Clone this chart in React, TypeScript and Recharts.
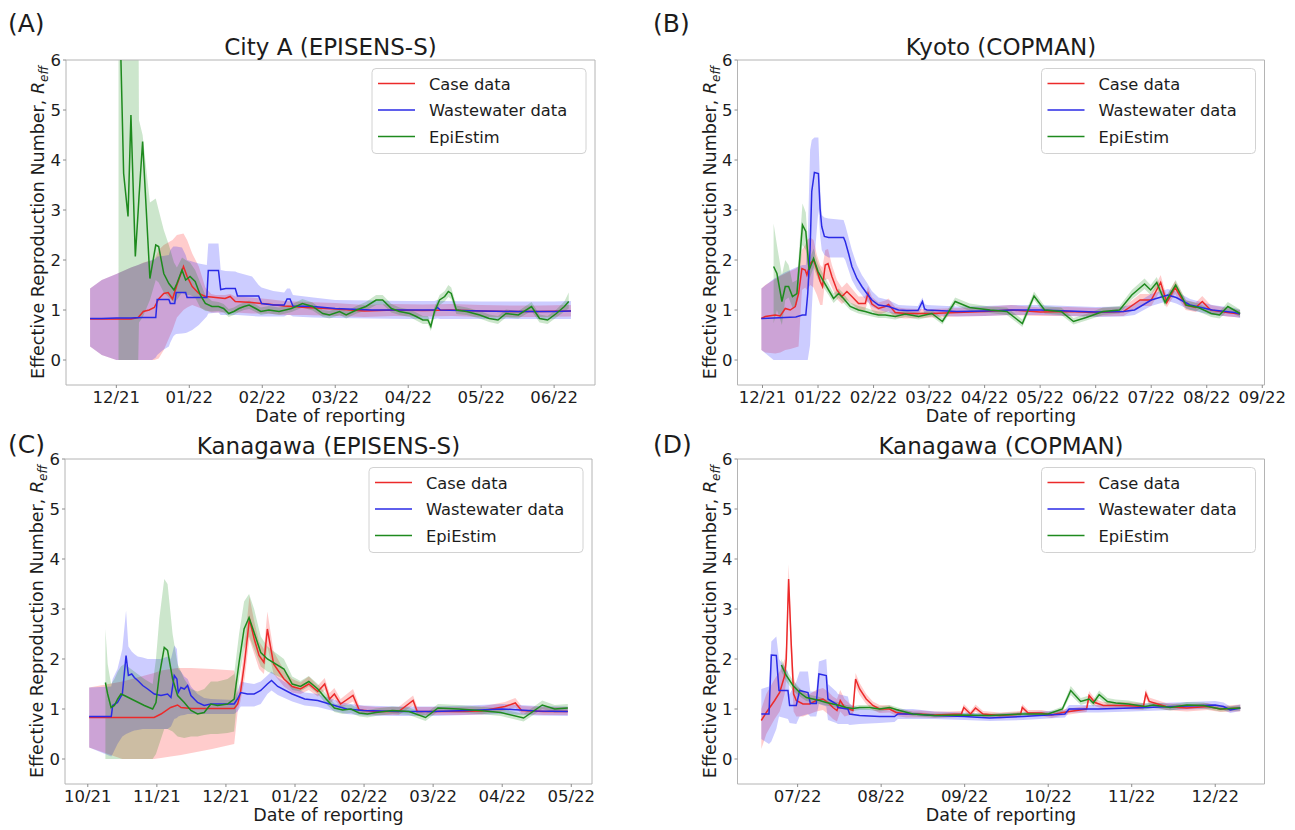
import React from 'react';
import { Area, ComposedChart, Line, ReferenceArea, XAxis, YAxis } from 'recharts';

// x values are months counted from the first tick of each panel

// ---- (A) City A (EPISENS-S) ----
const aTicks = ['12/21', '01/22', '02/22', '03/22', '04/22', '05/22', '06/22'];

const aCaseT = [-0.36, -0.2, 0, 0.2, 0.3, 0.37, 0.45, 0.52, 0.58, 0.65, 0.71, 0.77, 0.83, 0.92, 0.97, 1.04, 1.13, 1.22, 1.3, 1.36, 1.49, 1.56, 1.63, 1.86, 2.07, 2.3, 2.6, 3.0, 3.4, 3.8, 4.2, 4.6, 5.0, 5.4, 5.8, 6.23];
const aCaseR = [0.82, 0.82, 0.82, 0.82, 0.85, 0.97, 1.0, 1.05, 1.22, 1.33, 1.35, 1.22, 1.5, 1.87, 1.67, 1.47, 1.33, 1.27, 1.26, 1.25, 1.23, 1.27, 1.17, 1.15, 1.12, 1.08, 1.05, 1.02, 0.98, 1.0, 0.99, 1.0, 0.98, 0.97, 0.97, 0.98];
const aCaseLo = [0.27, 0.1, 0, 0, 0, 0, 0, 0, 0.03, 0.2, 0.4, 0.6, 0.85, 1.0, 1.05, 1.1, 1.05, 1.0, 0.95, 0.95, 0.95, 0.97, 0.95, 0.93, 0.93, 0.9, 0.9, 0.88, 0.86, 0.88, 0.87, 0.88, 0.86, 0.86, 0.86, 0.87];
const aCaseHi = [1.43, 1.6, 1.72, 1.85, 1.9, 1.95, 1.98, 2.0, 2.2, 2.3, 2.35, 2.4, 2.5, 2.53, 2.4, 2.13, 1.87, 1.45, 1.32, 1.3, 1.3, 1.32, 1.27, 1.25, 1.22, 1.18, 1.16, 1.14, 1.1, 1.12, 1.11, 1.12, 1.1, 1.09, 1.09, 1.1];

const aWwT = [-0.36, -0.2, 0, 0.2, 0.35, 0.49, 0.54, 0.56, 0.64, 0.72, 0.74, 0.78, 0.8, 0.82, 0.9, 0.95, 0.97, 1.04, 1.13, 1.24, 1.26, 1.4, 1.43, 1.5, 1.63, 1.66, 1.86, 1.95, 1.99, 2.15, 2.3, 2.34, 2.38, 2.42, 2.7, 3.0, 3.5, 4.0, 4.36, 4.4, 4.44, 5.0, 5.5, 6.0, 6.23];
const aWwR = [0.83, 0.83, 0.84, 0.84, 0.85, 0.85, 0.85, 1.21, 1.21, 1.21, 1.13, 1.13, 1.13, 1.35, 1.35, 1.35, 1.25, 1.25, 1.25, 1.25, 1.79, 1.79, 1.41, 1.43, 1.43, 1.28, 1.28, 1.28, 1.13, 1.1, 1.1, 1.22, 1.22, 1.08, 1.07, 1.03, 1.0, 1.0, 1.0, 1.05, 1.0, 0.98, 0.97, 0.97, 0.98];
const aWwLo = [0.27, 0.1, 0, 0, 0, 0, 0.05, 0.1, 0.2, 0.27, 0.35, 0.47, 0.5, 0.52, 0.53, 0.54, 0.55, 0.6, 0.7, 0.87, 0.93, 0.95, 0.9, 0.9, 0.9, 0.9, 0.88, 0.87, 0.87, 0.87, 0.87, 0.9, 0.9, 0.87, 0.85, 0.84, 0.83, 0.82, 0.82, 0.83, 0.82, 0.82, 0.82, 0.82, 0.82];
const aWwHi = [1.43, 1.6, 1.72, 1.85, 1.93, 2.0, 2.03, 2.07, 2.08, 2.1, 2.2, 2.27, 2.27, 2.27, 2.25, 2.1, 2.0, 1.97, 1.93, 1.9, 2.33, 2.33, 1.8, 1.78, 1.77, 1.75, 1.67, 1.5, 1.45, 1.38, 1.35, 1.43, 1.43, 1.3, 1.25, 1.2, 1.19, 1.18, 1.18, 1.2, 1.18, 1.17, 1.17, 1.17, 1.18];

const aEpiT = [0.03, 0.1, 0.16, 0.2, 0.26, 0.3, 0.31, 0.36, 0.46, 0.54, 0.58, 0.65, 0.72, 0.79, 0.83, 0.9, 0.95, 1.01, 1.08, 1.15, 1.22, 1.31, 1.4, 1.47, 1.54, 1.61, 1.68, 1.75, 1.82, 1.91, 1.98, 2.09, 2.23, 2.4, 2.55, 2.69, 2.83, 2.92, 3.06, 3.15, 3.29, 3.42, 3.56, 3.65, 3.77, 3.88, 4.02, 4.11, 4.2, 4.27, 4.31, 4.36, 4.43, 4.5, 4.55, 4.59, 4.66, 4.8, 4.98, 5.11, 5.23, 5.34, 5.51, 5.69, 5.8, 5.91, 6.03, 6.14, 6.2];
const aEpiR = [8.0, 3.73, 2.87, 4.9, 2.07, 3.0, 3.25, 4.37, 1.63, 2.3, 2.27, 1.73, 1.53, 1.4, 1.53, 1.8, 1.6, 1.67, 1.57, 1.3, 1.13, 1.07, 1.07, 1.03, 0.93, 0.97, 1.03, 1.07, 1.1, 1.03, 0.97, 1.0, 0.97, 1.03, 1.13, 1.07, 0.93, 0.9, 0.97, 0.9, 1.0, 1.07, 1.2, 1.2, 1.03, 0.97, 0.93, 0.87, 0.8, 0.8, 0.67, 0.97, 1.2, 1.27, 1.37, 1.33, 1.0, 0.97, 0.9, 0.83, 0.8, 0.93, 0.9, 1.07, 0.83, 0.8, 0.93, 1.07, 1.17];
const aEpiLo = [0, 0, 0, 0, 0, 0, 0.75, 0.85, 1.2, 1.6, 1.55, 1.35, 1.25, 1.15, 1.2, 1.35, 1.3, 1.3, 1.25, 1.05, 0.98, 0.97, 0.98, 0.95, 0.86, 0.9, 0.96, 1.0, 1.02, 0.96, 0.9, 0.93, 0.9, 0.96, 1.05, 0.99, 0.86, 0.83, 0.9, 0.83, 0.93, 0.99, 1.1, 1.11, 0.95, 0.9, 0.86, 0.79, 0.72, 0.72, 0.58, 0.88, 1.1, 1.17, 1.26, 1.22, 0.92, 0.9, 0.83, 0.76, 0.72, 0.85, 0.83, 0.98, 0.75, 0.72, 0.85, 0.97, 1.03];
const aEpiHi = [8, 8, 8, 8, 8, 8, 4.8, 4.5, 3.15, 3.23, 3.0, 2.6, 2.3, 1.95, 1.85, 2.05, 2.0, 1.95, 1.8, 1.55, 1.3, 1.18, 1.16, 1.12, 1.02, 1.05, 1.11, 1.15, 1.19, 1.11, 1.05, 1.08, 1.05, 1.11, 1.22, 1.15, 1.0, 0.98, 1.05, 0.98, 1.08, 1.16, 1.3, 1.3, 1.12, 1.05, 1.01, 0.95, 0.88, 0.88, 0.76, 1.06, 1.3, 1.38, 1.5, 1.45, 1.09, 1.05, 0.98, 0.91, 0.88, 1.01, 0.98, 1.16, 0.91, 0.88, 1.01, 1.17, 1.35];

// ---- (B) Kyoto (COPMAN) ----
const bTicks = ['12/21', '01/22', '02/22', '03/22', '04/22', '05/22', '06/22', '07/22', '08/22', '09/22'];

const bCaseT = [-0.02, 0.05, 0.23, 0.32, 0.41, 0.5, 0.59, 0.65, 0.71, 0.77, 0.8, 0.86, 0.92, 0.98, 1.04, 1.08, 1.13, 1.18, 1.25, 1.34, 1.43, 1.52, 1.61, 1.73, 1.85, 1.9, 1.97, 2.09, 2.21, 2.27, 2.39, 2.57, 2.8, 3.05, 3.5, 4.0, 4.47, 5.0, 5.5, 6.0, 6.5, 6.8, 7.0, 7.17, 7.28, 7.43, 7.62, 7.8, 7.92, 8.07, 8.37, 8.6];
const bCaseR = [0.83, 0.87, 0.9, 0.88, 1.03, 1.0, 1.07, 1.33, 1.83, 1.8, 1.7, 1.93, 2.0, 1.8, 1.57, 1.47, 1.9, 1.93, 1.67, 1.4, 1.27, 1.37, 1.27, 1.13, 1.13, 1.33, 1.12, 1.03, 1.07, 1.11, 0.95, 0.93, 0.93, 0.93, 0.95, 0.97, 1.0, 0.96, 0.97, 0.95, 0.97, 1.2, 1.2, 1.55, 1.15, 1.45, 1.1, 1.05, 1.17, 1.0, 0.95, 0.92];
const bCaseLo = [0.2, 0.15, 0.13, 0.15, 0.2, 0.22, 0.25, 0.27, 1.4, 1.45, 1.4, 1.5, 1.45, 1.3, 1.1, 1.1, 1.6, 1.62, 1.45, 1.22, 1.12, 1.2, 1.12, 1.0, 1.0, 1.18, 0.98, 0.9, 0.95, 0.98, 0.85, 0.83, 0.84, 0.85, 0.87, 0.88, 0.9, 0.88, 0.88, 0.87, 0.88, 1.08, 1.08, 1.4, 1.05, 1.32, 1.0, 0.96, 1.06, 0.92, 0.87, 0.85];
const bCaseHi = [1.43, 1.5, 1.62, 1.68, 1.73, 1.78, 1.82, 1.87, 2.2, 2.3, 2.4, 2.45, 2.4, 2.1, 1.9, 1.85, 2.2, 2.22, 1.9, 1.6, 1.45, 1.55, 1.43, 1.27, 1.27, 1.48, 1.26, 1.15, 1.19, 1.23, 1.06, 1.03, 1.02, 1.02, 1.04, 1.06, 1.1, 1.05, 1.06, 1.04, 1.06, 1.32, 1.32, 1.7, 1.27, 1.58, 1.2, 1.15, 1.28, 1.1, 1.04, 1.0];

const bWwT = [-0.02, 0.2, 0.4, 0.6, 0.72, 0.78, 0.815, 0.857, 0.887, 0.935, 1.007, 1.037, 1.067, 1.115, 1.19, 1.46, 1.49, 1.55, 1.61, 1.7, 1.79, 1.88, 1.97, 2.09, 2.27, 2.45, 2.6, 2.8, 2.88, 2.92, 2.96, 3.5, 4.0, 4.5, 5.0, 5.5, 6.0, 6.5, 6.7, 7.0, 7.3, 7.45, 7.7, 8.1, 8.5, 8.6];
const bWwR = [0.83, 0.84, 0.85, 0.86, 0.9, 0.9, 1.33, 2.2, 3.37, 3.75, 3.73, 3.03, 2.67, 2.47, 2.45, 2.45, 2.37, 2.13, 1.87, 1.63, 1.47, 1.33, 1.2, 1.1, 1.07, 1.0, 0.99, 0.99, 1.17, 1.02, 1.0, 0.97, 0.98, 1.0, 1.0, 0.98, 0.96, 0.97, 1.0, 1.2, 1.3, 1.25, 1.1, 1.0, 0.95, 0.92];
const bWwLo = [0.2, 0, 0, 0, 0, 0, 0, 0.3, 1.0, 2.0, 3.0, 2.5, 2.2, 2.1, 2.05, 2.05, 2.0, 1.8, 1.6, 1.42, 1.3, 1.18, 1.07, 1.0, 0.95, 0.9, 0.89, 0.89, 1.05, 0.91, 0.9, 0.87, 0.88, 0.9, 0.9, 0.88, 0.86, 0.87, 0.9, 1.08, 1.18, 1.13, 1.0, 0.9, 0.86, 0.84];
const bWwHi = [1.43, 1.62, 1.75, 1.85, 1.9, 1.9, 2.4, 4.2, 4.4, 4.45, 4.45, 3.5, 2.9, 2.85, 2.83, 2.8, 2.7, 2.45, 2.2, 1.9, 1.7, 1.55, 1.38, 1.25, 1.2, 1.1, 1.09, 1.08, 1.25, 1.12, 1.1, 1.07, 1.08, 1.1, 1.1, 1.08, 1.06, 1.07, 1.12, 1.32, 1.42, 1.37, 1.22, 1.1, 1.04, 1.0];

const bEpiT = [0.2, 0.26, 0.35, 0.41, 0.47, 0.54, 0.62, 0.72, 0.78, 0.84, 0.92, 1.0, 1.1, 1.19, 1.28, 1.37, 1.46, 1.58, 1.73, 1.85, 1.97, 2.09, 2.21, 2.39, 2.57, 2.81, 3.05, 3.24, 3.47, 3.73, 4.1, 4.4, 4.68, 4.89, 5.08, 5.38, 5.6, 5.83, 6.13, 6.43, 6.65, 6.88, 6.99, 7.1, 7.25, 7.44, 7.63, 7.85, 8.08, 8.23, 8.38, 8.6];
const bEpiR = [1.87, 1.73, 1.17, 1.47, 1.47, 1.27, 1.33, 2.7, 2.57, 1.8, 2.03, 1.77, 1.57, 1.4, 1.23, 1.33, 1.23, 1.07, 1.0, 0.97, 0.93, 0.9, 0.9, 0.87, 0.92, 0.87, 0.93, 0.77, 1.17, 1.05, 1.0, 0.97, 0.73, 1.28, 1.0, 0.97, 0.77, 0.85, 0.97, 1.0, 1.3, 1.52, 1.4, 1.55, 1.15, 1.5, 1.1, 1.05, 0.93, 0.9, 1.07, 0.93];
const bEpiLo = [0.73, 1.0, 0.7, 1.2, 1.25, 1.05, 1.1, 2.3, 2.2, 1.6, 1.85, 1.62, 1.45, 1.3, 1.14, 1.24, 1.14, 1.0, 0.93, 0.9, 0.87, 0.84, 0.84, 0.81, 0.86, 0.81, 0.87, 0.71, 1.1, 0.98, 0.94, 0.9, 0.66, 1.2, 0.93, 0.9, 0.71, 0.79, 0.9, 0.93, 1.21, 1.42, 1.3, 1.44, 1.07, 1.4, 1.02, 0.97, 0.86, 0.83, 0.98, 0.86];
const bEpiHi = [2.73, 2.3, 1.7, 2.0, 1.9, 1.55, 1.6, 3.13, 2.95, 2.0, 2.23, 1.93, 1.7, 1.52, 1.33, 1.43, 1.33, 1.15, 1.08, 1.05, 1.0, 0.97, 0.97, 0.94, 0.99, 0.94, 1.0, 0.84, 1.25, 1.13, 1.07, 1.05, 0.81, 1.37, 1.08, 1.05, 0.84, 0.92, 1.05, 1.08, 1.4, 1.63, 1.5, 1.66, 1.24, 1.6, 1.19, 1.13, 1.01, 0.97, 1.16, 1.01];

// ---- (C) Kanagawa (EPISENS-S) ----
const cTicks = ['10/21', '11/21', '12/21', '01/22', '02/22', '03/22', '04/22', '05/22'];

const cCaseT = [0.02, 0.5, 0.96, 1.06, 1.2, 1.3, 1.35, 1.5, 1.8, 2.12, 2.17, 2.21, 2.27, 2.34, 2.41, 2.48, 2.55, 2.6, 2.69, 2.84, 2.96, 3.08, 3.2, 3.33, 3.43, 3.5, 3.57, 3.66, 3.84, 3.93, 4.17, 4.5, 4.71, 4.77, 5.0, 5.37, 5.7, 6.04, 6.19, 6.28, 6.6, 6.95];
const cCaseR = [0.83, 0.83, 0.83, 0.9, 1.03, 1.08, 1.03, 1.01, 1.01, 1.01, 1.1, 1.33, 1.93, 2.8, 2.4, 2.07, 1.93, 2.6, 1.9, 1.6, 1.45, 1.4, 1.5, 1.35, 1.5, 1.2, 1.3, 1.1, 1.27, 0.98, 0.95, 0.95, 1.17, 0.95, 0.95, 0.95, 0.96, 1.05, 1.12, 0.97, 0.95, 0.95];
const cCaseLo = [0.23, 0, 0, 0.02, 0.05, 0.07, 0.08, 0.12, 0.2, 0.3, 0.95, 1.15, 1.6, 2.4, 2.1, 1.8, 1.7, 2.25, 1.7, 1.45, 1.33, 1.3, 1.38, 1.25, 1.38, 1.1, 1.2, 1.02, 1.15, 0.9, 0.88, 0.88, 1.07, 0.88, 0.88, 0.88, 0.89, 0.97, 1.03, 0.9, 0.88, 0.88];
const cCaseHi = [1.43, 1.55, 1.72, 1.77, 1.8, 1.82, 1.82, 1.82, 1.8, 1.77, 1.3, 1.55, 2.3, 3.25, 2.75, 2.35, 2.2, 2.95, 2.15, 1.78, 1.6, 1.53, 1.65, 1.47, 1.62, 1.32, 1.42, 1.2, 1.4, 1.07, 1.04, 1.04, 1.27, 1.04, 1.04, 1.04, 1.05, 1.14, 1.22, 1.06, 1.04, 1.04];

const cWwT = [0.02, 0.34, 0.36, 0.43, 0.5, 0.554, 0.588, 0.636, 0.674, 0.723, 0.795, 0.867, 0.963, 1.06, 1.155, 1.204, 1.252, 1.29, 1.31, 1.348, 1.397, 1.445, 1.493, 1.589, 1.685, 1.782, 2.119, 2.167, 2.215, 2.311, 2.408, 2.504, 2.6, 2.66, 2.75, 2.96, 3.14, 3.33, 3.5, 3.62, 3.75, 3.99, 4.5, 5.0, 5.5, 6.0, 6.5, 6.95];
const cWwR = [0.85, 0.85, 1.07, 1.13, 1.3, 2.07, 1.67, 1.7, 1.63, 1.57, 1.47, 1.4, 1.3, 1.27, 1.3, 1.23, 1.67, 1.6, 1.33, 1.43, 1.4, 1.47, 1.27, 1.13, 1.07, 1.1, 1.1, 1.2, 1.33, 1.3, 1.3, 1.37, 1.5, 1.57, 1.45, 1.3, 1.2, 1.17, 1.1, 1.05, 1.0, 0.97, 0.95, 0.95, 0.97, 1.0, 0.96, 0.95];
const cWwLo = [0.23, 0.05, 0.1, 0.3, 0.45, 0.5, 0.52, 0.55, 0.57, 0.58, 0.6, 0.6, 0.6, 0.6, 0.6, 0.65, 0.8, 0.82, 0.85, 0.87, 0.88, 0.9, 0.9, 0.9, 0.9, 0.9, 0.9, 0.95, 1.05, 1.05, 1.05, 1.1, 1.3, 1.37, 1.28, 1.15, 1.07, 1.04, 0.98, 0.94, 0.9, 0.87, 0.86, 0.86, 0.88, 0.9, 0.87, 0.86];
const cWwHi = [1.43, 1.45, 1.6, 1.8, 2.2, 2.97, 2.25, 2.15, 2.1, 2.05, 2.03, 2.0, 2.0, 2.0, 2.05, 2.0, 2.27, 2.2, 1.8, 1.75, 1.65, 1.6, 1.45, 1.3, 1.22, 1.2, 1.18, 1.35, 1.55, 1.52, 1.5, 1.55, 1.67, 1.75, 1.63, 1.45, 1.33, 1.3, 1.22, 1.16, 1.11, 1.07, 1.05, 1.05, 1.07, 1.1, 1.06, 1.05];

const cEpiT = [0.255, 0.288, 0.337, 0.385, 0.433, 0.48, 0.53, 0.674, 0.819, 0.939, 0.987, 1.035, 1.107, 1.155, 1.228, 1.3, 1.397, 1.493, 1.589, 1.685, 1.782, 1.878, 2.023, 2.119, 2.19, 2.263, 2.335, 2.408, 2.504, 2.6, 2.84, 2.96, 3.08, 3.2, 3.33, 3.45, 3.57, 3.69, 3.81, 3.93, 4.05, 4.17, 4.41, 4.65, 4.89, 5.07, 5.37, 5.67, 5.98, 6.31, 6.58, 6.76, 6.95];
const cEpiR = [1.53, 1.3, 1.03, 1.07, 1.2, 1.3, 1.27, 1.17, 1.07, 1.0, 1.13, 1.67, 2.23, 2.17, 1.6, 1.27, 1.13, 0.97, 0.9, 0.93, 1.1, 1.07, 1.1, 1.2, 1.93, 2.6, 2.83, 2.53, 2.13, 2.0, 1.8, 1.5, 1.45, 1.55, 1.4, 1.2, 1.02, 0.98, 1.0, 0.92, 0.9, 0.93, 0.97, 0.95, 0.83, 1.02, 1.0, 0.97, 0.93, 0.82, 1.08, 1.0, 1.02];
const cEpiLo = [0, 0, 0, 0, 0, 0, 0, 0, 0, 0, 0.1, 0.3, 0.6, 0.6, 0.55, 0.45, 0.42, 0.45, 0.45, 0.48, 0.5, 0.5, 0.52, 0.55, 1.6, 2.2, 2.45, 2.2, 1.85, 1.75, 1.6, 1.38, 1.35, 1.45, 1.3, 1.1, 0.94, 0.9, 0.92, 0.85, 0.83, 0.86, 0.9, 0.88, 0.76, 0.95, 0.93, 0.9, 0.86, 0.75, 1.0, 0.93, 0.95];
const cEpiHi = [2.6, 1.9, 1.5, 1.6, 1.75, 1.85, 1.9, 1.75, 1.6, 1.5, 2.0, 2.8, 3.6, 3.5, 2.5, 1.9, 1.6, 1.4, 1.35, 1.4, 1.55, 1.55, 1.6, 1.7, 2.5, 3.15, 3.3, 3.0, 2.45, 2.25, 2.0, 1.65, 1.56, 1.66, 1.5, 1.3, 1.11, 1.07, 1.09, 1.0, 0.98, 1.01, 1.05, 1.03, 0.91, 1.1, 1.08, 1.05, 1.01, 0.9, 1.17, 1.08, 1.1];

// ---- (D) Kanagawa (COPMAN) ----
const dTicks = ['07/22', '08/22', '09/22', '10/22', '11/22', '12/22'];

const dCaseT = [-0.435, -0.375, -0.275, -0.215, -0.155, -0.136, -0.108, -0.076, -0.048, -0.016, 0.064, 0.144, 0.223, 0.303, 0.363, 0.423, 0.471, 0.51, 0.562, 0.662, 0.694, 0.742, 0.821, 0.901, 0.981, 1.1, 1.18, 1.3, 1.46, 1.64, 1.8, 1.96, 1.99, 2.07, 2.13, 2.22, 2.42, 2.67, 2.69, 2.76, 2.92, 3.04, 3.17, 3.46, 3.49, 3.56, 3.66, 3.91, 4.14, 4.17, 4.21, 4.41, 4.66, 4.91, 5.06, 5.3];
const dCaseR = [0.77, 0.93, 1.17, 1.33, 1.67, 2.0, 3.6, 2.27, 1.3, 1.17, 1.1, 1.1, 1.17, 1.2, 1.13, 1.03, 0.97, 1.17, 1.03, 0.97, 1.6, 1.4, 1.2, 1.07, 1.0, 1.0, 0.93, 0.9, 0.9, 0.88, 0.89, 0.9, 1.03, 0.9, 1.02, 0.9, 0.87, 0.9, 1.03, 0.92, 0.92, 0.88, 0.93, 1.0, 1.27, 1.13, 1.07, 1.07, 1.05, 1.31, 1.15, 1.05, 1.02, 1.05, 1.0, 1.02];
const dCaseLo = [0.2, 0.5, 0.8, 0.95, 1.3, 1.6, 3.2, 1.9, 0.95, 0.85, 0.85, 0.9, 0.95, 0.98, 0.9, 0.8, 0.75, 0.95, 0.85, 0.9, 1.45, 1.28, 1.1, 0.98, 0.92, 0.93, 0.86, 0.83, 0.83, 0.82, 0.83, 0.84, 0.96, 0.84, 0.95, 0.84, 0.81, 0.84, 0.96, 0.86, 0.86, 0.82, 0.87, 0.94, 1.18, 1.06, 1.0, 1.0, 0.98, 1.22, 1.07, 0.98, 0.95, 0.98, 0.94, 0.95];
const dCaseHi = [1.0, 1.3, 1.6, 1.75, 2.0, 2.3, 3.9, 2.6, 1.65, 1.45, 1.35, 1.3, 1.38, 1.42, 1.35, 1.25, 1.2, 1.38, 1.2, 1.05, 1.72, 1.52, 1.3, 1.15, 1.08, 1.07, 1.0, 0.97, 0.97, 0.95, 0.95, 0.96, 1.1, 0.96, 1.09, 0.96, 0.93, 0.96, 1.1, 0.98, 0.98, 0.94, 0.99, 1.06, 1.36, 1.2, 1.14, 1.14, 1.12, 1.4, 1.23, 1.12, 1.09, 1.12, 1.06, 1.09];

const dWwT = [-0.435, -0.343, -0.315, -0.255, -0.223, -0.116, -0.096, -0.016, 0.024, 0.124, 0.152, 0.223, 0.255, 0.343, 0.363, 0.463, 0.483, 0.602, 0.622, 0.742, 0.981, 1.16, 1.2, 1.38, 1.64, 2.0, 2.3, 2.7, 3.0, 3.2, 3.25, 3.6, 4.0, 4.5, 5.0, 5.1, 5.18, 5.3];
const dWwR = [0.9, 0.9, 2.08, 2.07, 1.37, 1.37, 1.07, 1.07, 1.37, 1.33, 1.11, 1.11, 1.7, 1.67, 1.2, 1.1, 1.03, 1.0, 0.9, 0.87, 0.85, 0.85, 0.9, 0.9, 0.87, 0.85, 0.82, 0.85, 0.88, 0.9, 1.0, 1.0, 1.02, 1.05, 1.08, 1.05, 0.98, 1.02];
const dWwLo = [0.4, 0.3, 0.35, 0.6, 0.85, 0.8, 0.72, 0.7, 0.85, 0.9, 0.85, 0.85, 1.1, 1.05, 0.78, 0.72, 0.7, 0.7, 0.68, 0.7, 0.72, 0.74, 0.8, 0.8, 0.8, 0.78, 0.76, 0.78, 0.81, 0.83, 0.93, 0.93, 0.95, 0.98, 1.01, 0.98, 0.92, 0.96];
const dWwHi = [1.4, 1.45, 2.35, 2.45, 2.0, 1.75, 1.3, 1.55, 1.75, 1.75, 1.35, 1.35, 1.95, 2.0, 1.5, 1.35, 1.3, 1.25, 1.1, 1.02, 0.98, 0.97, 1.0, 1.0, 0.95, 0.93, 0.9, 0.93, 0.96, 0.98, 1.08, 1.08, 1.1, 1.13, 1.16, 1.13, 1.05, 1.09];

const dEpiT = [-0.195, -0.136, -0.056, 0.024, 0.104, 0.183, 0.263, 0.343, 0.423, 0.502, 0.582, 0.662, 0.742, 0.861, 0.981, 1.1, 1.22, 1.38, 1.54, 1.64, 1.97, 2.3, 2.7, 3.0, 3.17, 3.27, 3.39, 3.49, 3.54, 3.61, 3.71, 3.81, 3.96, 4.16, 4.26, 4.46, 4.66, 4.86, 5.06, 5.3];
const dEpiR = [1.88, 1.67, 1.47, 1.33, 1.23, 1.2, 1.17, 1.13, 1.1, 1.07, 1.03, 1.01, 1.03, 1.03, 1.0, 1.03, 0.97, 0.9, 0.88, 0.87, 0.88, 0.87, 0.9, 0.9, 1.0, 1.37, 1.15, 1.2, 1.12, 1.29, 1.15, 1.12, 1.1, 1.05, 1.08, 1.03, 1.08, 1.07, 1.0, 1.02];
const dEpiLo = [1.75, 1.55, 1.37, 1.25, 1.16, 1.13, 1.1, 1.07, 1.04, 1.01, 0.98, 0.96, 0.98, 0.98, 0.95, 0.98, 0.92, 0.86, 0.84, 0.83, 0.84, 0.83, 0.86, 0.86, 0.95, 1.28, 1.08, 1.13, 1.05, 1.21, 1.08, 1.05, 1.03, 0.99, 1.02, 0.97, 1.02, 1.01, 0.95, 0.97];
const dEpiHi = [2.0, 1.78, 1.57, 1.42, 1.3, 1.27, 1.24, 1.19, 1.16, 1.13, 1.08, 1.06, 1.08, 1.08, 1.05, 1.08, 1.02, 0.94, 0.92, 0.91, 0.92, 0.91, 0.94, 0.94, 1.05, 1.46, 1.22, 1.27, 1.19, 1.37, 1.22, 1.19, 1.17, 1.11, 1.14, 1.09, 1.14, 1.13, 1.05, 1.07];

const yTicks = [0, 1, 2, 3, 4, 5, 6];
const seriesNames = ['Case data', 'Wastewater data', 'EpiEstim'];

const FONT = "'DejaVu Sans', sans-serif";
const BAND_COLORS = ['#ff0000', '#0000ff', '#008000'];
const LINE_COLORS = ['#ec2a2a', '#2a2ae6', '#1e8a1e'];

interface Series {
  t: number[];
  r: number[];
  lo: number[];
  hi: number[];
}

interface PanelSpec {
  letter: string;
  title: string;
  left: number;
  top: number;
  width: number;
  height: number;
  plot: { l: number; t: number; r: number; b: number };
  domain: [number, number];
  labels: string[];
  series: Series[];
}

const rows = (s: Series) =>
  s.t.map((t, i) => ({ t, r: s.r[i], band: [s.lo[i], s.hi[i]] }));

const panels: PanelSpec[] = [
  {
    letter: '(A)',
    title: 'City A (EPISENS-S)',
    left: 0,
    top: 0,
    width: 645,
    height: 425,
    plot: { l: 66, t: 60, r: 595, b: 385 },
    domain: [-0.69, 6.56],
    labels: aTicks,
    series: [
      { t: aCaseT, r: aCaseR, lo: aCaseLo, hi: aCaseHi },
      { t: aWwT, r: aWwR, lo: aWwLo, hi: aWwHi },
      { t: aEpiT, r: aEpiR, lo: aEpiLo, hi: aEpiHi },
    ],
  },
  {
    letter: '(B)',
    title: 'Kyoto (COPMAN)',
    left: 645,
    top: 0,
    width: 650,
    height: 425,
    plot: { l: 737.5, t: 60, r: 1264.5, b: 385 },
    domain: [-0.45, 9.04],
    labels: bTicks,
    series: [
      { t: bCaseT, r: bCaseR, lo: bCaseLo, hi: bCaseHi },
      { t: bWwT, r: bWwR, lo: bWwLo, hi: bWwHi },
      { t: bEpiT, r: bEpiR, lo: bEpiLo, hi: bEpiHi },
    ],
  },
  {
    letter: '(C)',
    title: 'Kanagawa (EPISENS-S)',
    left: 0,
    top: 415,
    width: 645,
    height: 415,
    plot: { l: 65, t: 459, r: 592, b: 784 },
    domain: [-0.33, 7.3],
    labels: cTicks,
    series: [
      { t: cCaseT, r: cCaseR, lo: cCaseLo, hi: cCaseHi },
      { t: cWwT, r: cWwR, lo: cWwLo, hi: cWwHi },
      { t: cEpiT, r: cEpiR, lo: cEpiLo, hi: cEpiHi },
    ],
  },
  {
    letter: '(D)',
    title: 'Kanagawa (COPMAN)',
    left: 645,
    top: 415,
    width: 650,
    height: 415,
    plot: { l: 737.5, t: 459, r: 1264.5, b: 784 },
    domain: [-0.72, 5.59],
    labels: dTicks,
    series: [
      { t: dCaseT, r: dCaseR, lo: dCaseLo, hi: dCaseHi },
      { t: dWwT, r: dWwR, lo: dWwLo, hi: dWwHi },
      { t: dEpiT, r: dEpiR, lo: dEpiLo, hi: dEpiHi },
    ],
  },
];

const tickStyle = { fontSize: 16.5, fill: '#1c1c1c', fontFamily: FONT };

const Panel = ({ p }: { p: PanelSpec }) => {
  const { left, top, width, height, plot, domain, labels, series } = p;
  const xTicks = labels.map((_, i) => i);
  return (
    <div style={{ position: 'absolute', left, top }}>
      <ComposedChart
        width={width}
        height={height}
        margin={{ top: plot.t - top, right: left + width - plot.r, bottom: 0, left: 0 }}
      >
        <XAxis
          type="number"
          dataKey="t"
          domain={domain}
          ticks={xTicks}
          interval={0}
          allowDataOverflow
          tickFormatter={(v: number) => labels[Math.round(v)]}
          axisLine={false}
          tickLine={{ stroke: '#8c8c8c' }}
          tickSize={3}
          tickMargin={3}
          height={top + height - plot.b}
          tick={tickStyle}
        />
        <YAxis
          type="number"
          domain={[-0.5, 6]}
          ticks={yTicks}
          interval={0}
          allowDataOverflow
          axisLine={false}
          tickLine={{ stroke: '#8c8c8c' }}
          tickSize={3}
          tickMargin={2}
          width={plot.l - left}
          tick={tickStyle}
        />
        {series.map((s, i) => (
          <Area
            key={`band-${i}`}
            data={rows(s)}
            dataKey="band"
            type="linear"
            stroke="none"
            fill={BAND_COLORS[i]}
            fillOpacity={0.2}
            dot={false}
            activeDot={false}
            isAnimationActive={false}
          />
        ))}
        {series.map((s, i) => (
          <Line
            key={`line-${i}`}
            data={rows(s)}
            dataKey="r"
            type="linear"
            stroke={LINE_COLORS[i]}
            strokeWidth={1.5}
            dot={false}
            activeDot={false}
            isAnimationActive={false}
          />
        ))}
        <ReferenceArea
          x1={domain[0]}
          x2={domain[1]}
          y1={-0.5}
          y2={6}
          fill="none"
          fillOpacity={0}
          stroke="#b4b4b4"
          strokeWidth={1}
          ifOverflow="visible"
        />
      </ComposedChart>
    </div>
  );
};

// titles, axis labels and legends drawn over the four charts
const Annotations = () => (
  <svg
    width={1295}
    height={830}
    style={{ position: 'absolute', left: 0, top: 0, pointerEvents: 'none' }}
    fontFamily={FONT}
    fill="#1c1c1c"
  >
    {panels.map((p) => {
      const cx = (p.plot.l + p.plot.r) / 2;
      const cy = (p.plot.t + p.plot.b) / 2;
      const yx = p.plot.l - 22;
      const lx = p.plot.r - 223;
      const ly = p.plot.t + 8.5;
      return (
        <g key={p.letter}>
          <text x={p.left + 8} y={p.plot.t - (p.top === 0 ? 28.5 : 6)} fontSize={25}>
            {p.letter}
          </text>
          <text x={cx} y={p.plot.t - 5.5} fontSize={23} textAnchor="middle">
            {p.title}
          </text>
          <text x={cx} y={p.plot.b + 37} fontSize={17.5} textAnchor="middle">
            Date of reporting
          </text>
          <text
            x={yx}
            y={cy}
            transform={`rotate(-90 ${yx} ${cy})`}
            fontSize={17.5}
            textAnchor="middle"
          >
            Effective Reproduction Number, <tspan fontStyle="italic">R</tspan>
            <tspan fontStyle="italic" fontSize={12} dy={4}>
              eff
            </tspan>
          </text>
          <rect
            x={lx}
            y={ly}
            width={214}
            height={85}
            rx={4}
            fill="#ffffff"
            fillOpacity={0.8}
            stroke="#d2d2d2"
          />
          {seriesNames.map((name, i) => {
            const rowY = ly + 15 + i * 26.5;
            return (
              <g key={name}>
                <line x1={lx + 6} x2={lx + 43} y1={rowY} y2={rowY} stroke={LINE_COLORS[i]} strokeWidth={1.5} />
                <text x={lx + 57} y={rowY + 6} fontSize={16.3}>
                  {name}
                </text>
              </g>
            );
          })}
        </g>
      );
    })}
  </svg>
);

export default function App() {
  return (
    <div
      style={{
        position: 'absolute',
        left: 0,
        top: 0,
        width: 1295,
        height: 830,
        background: '#ffffff',
        fontFamily: FONT,
      }}
    >
      {panels.map((p) => (
        <Panel key={p.letter} p={p} />
      ))}
      <Annotations />
    </div>
  );
}
